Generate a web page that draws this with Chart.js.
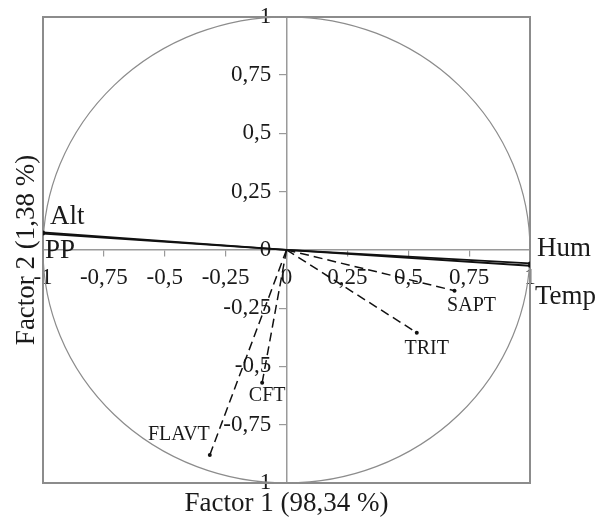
<!DOCTYPE html>
<html>
<head>
<meta charset="utf-8">
<script src="https://cdn.jsdelivr.net/npm/chart.js@4.4.0/dist/chart.umd.min.js"></script>
<style>
  html, body { margin: 0; padding: 0; background: #fff; }
  #wrap { width: 600px; height: 520px; }
</style>
</head>
<body>
<div id="wrap"><canvas id="pcaChart"></canvas></div>
<script>
// ============================================================
// Data (read from the correlation circle)
// ============================================================

const varNames = ['Alt', 'PP', 'Hum', 'Temp', 'SAPT', 'TRIT', 'CFT', 'FLAVT'];
const factor1 = [-1.0, -1.0, 1.0, 1.0, 0.69, 0.535, -0.10, -0.315];
const factor2 = [0.075, 0.07, -0.058, -0.068, -0.175, -0.355, -0.57, -0.88];
// environmental variables are drawn solid, the others dashed
const varGroup = ['env', 'env', 'env', 'env', 'bio', 'bio', 'bio', 'bio'];

const tickValues = [-1, -0.75, -0.5, -0.25, 0, 0.25, 0.5, 0.75, 1];
const tickLabels = ['-1', '-0,75', '-0,5', '-0,25', '0', '0,25', '0,5', '0,75', '1'];

const axisTitleX = 'Factor 1 (98,34 %)';
const axisTitleY = 'Factor 2 (1,38 %)';

// ============================================================
// Styling
// ============================================================

const SERIF = "'Liberation Serif', 'DejaVu Serif', serif";
const BOX_COLOR = '#8c8c8c';
const AXIS_COLOR = '#9a9a9a';

// label placement relative to the arrow end (px)
const labelPlacement = {
  Alt:   { dx: 7,  dy: -16, align: 'left',   size: 27 },
  PP:    { dx: 2,  dy: 17,  align: 'left',   size: 27 },
  Hum:   { dx: 7,  dy: -15, align: 'left',   size: 27 },
  Temp:  { dx: 5,  dy: 31,  align: 'left',   size: 27 },
  SAPT:  { dx: 17, dy: 15,  align: 'center', size: 20 },
  TRIT:  { dx: 10, dy: 16,  align: 'center', size: 20 },
  CFT:   { dx: 5,  dy: 13,  align: 'center', size: 20 },
  FLAVT: { dx: 0,  dy: -20, align: 'right',  size: 20 }
};

function tickText(v) {
  const i = tickValues.findIndex(t => Math.abs(t - v) < 1e-9);
  return i >= 0 ? tickLabels[i] : '';
}

// a centred y axis ignores ticks.padding, so keep the labels off the line with a gap
function yTickText(v) {
  return tickText(v) + '\u2002\u2006';
}

function setTicks(scale) {
  scale.ticks = tickValues.map(v => ({ value: v }));
}

// unit circle drawn behind the vectors
const circlePlugin = {
  id: 'unitCircle',
  beforeDatasetsDraw(chart) {
    const { ctx, scales: { x, y } } = chart;
    const cx = x.getPixelForValue(0);
    const cy = y.getPixelForValue(0);
    const rx = x.getPixelForValue(1) - cx;
    const ry = cy - y.getPixelForValue(1);
    ctx.save();
    ctx.strokeStyle = BOX_COLOR;
    ctx.lineWidth = 1.2;
    ctx.beginPath();
    ctx.ellipse(cx, cy, rx, ry, 0, 0, Math.PI * 2);
    ctx.stroke();
    ctx.restore();
  }
};

// variable names next to the arrow ends
const varLabelPlugin = {
  id: 'varLabels',
  afterDatasetsDraw(chart) {
    const { ctx, scales: { x, y } } = chart;
    ctx.save();
    ctx.fillStyle = '#1a1a1a';
    ctx.textBaseline = 'middle';
    varNames.forEach((name, i) => {
      const p = labelPlacement[name];
      ctx.font = p.size + 'px ' + SERIF;
      ctx.textAlign = p.align;
      ctx.fillText(name, x.getPixelForValue(factor1[i]) + p.dx, y.getPixelForValue(factor2[i]) + p.dy);
    });
    ctx.restore();
  }
};

const datasets = varNames.map((name, i) => {
  const solid = varGroup[i] === 'env';
  return {
    label: name,
    data: [{ x: 0, y: 0 }, { x: factor1[i], y: factor2[i] }],
    showLine: true,
    borderColor: '#111',
    backgroundColor: '#111',
    borderWidth: solid ? 1.8 : 1.5,
    borderDash: solid ? [] : [9, 5],
    pointRadius: [0, 2],
    pointBorderWidth: 0
  };
});

const hiddenEdge = {
  type: 'linear',
  min: -1,
  max: 1,
  ticks: { display: false },
  grid: { display: false, drawTicks: false },
  border: { display: true, color: BOX_COLOR, width: 2 }
};

new Chart(document.getElementById('pcaChart'), {
  type: 'scatter',
  data: { datasets },
  plugins: [circlePlugin, varLabelPlugin],
  options: {
    responsive: true,
    maintainAspectRatio: false,
    animation: false,
    events: [],
    layout: { padding: { left: 2, right: 70, top: 15, bottom: 0 } },
    plugins: {
      legend: { display: false },
      tooltip: { enabled: false }
    },
    scales: {
      x: {
        type: 'linear',
        min: -1,
        max: 1,
        position: { y: 0 },
        afterBuildTicks: setTicks,
        grid: { drawOnChartArea: false, color: AXIS_COLOR, tickLength: 6, lineWidth: 1.2 },
        border: { color: AXIS_COLOR, width: 1.5 },
        ticks: {
          callback: tickText,
          autoSkip: false,
          maxRotation: 0,
          padding: 8,
          color: '#1a1a1a',
          font: { family: SERIF, size: 23 }
        }
      },
      y: {
        type: 'linear',
        min: -1,
        max: 1,
        position: { x: 0 },
        afterBuildTicks: setTicks,
        grid: { drawOnChartArea: false, color: AXIS_COLOR, tickLength: 7, lineWidth: 1.2 },
        border: { color: AXIS_COLOR, width: 1.5 },
        ticks: {
          callback: yTickText,
          autoSkip: false,
          color: '#1a1a1a',
          font: { family: SERIF, size: 23 }
        }
      },
      xBottom: Object.assign({}, hiddenEdge, {
        position: 'bottom',
        title: {
          display: true,
          text: axisTitleX,
          color: '#1a1a1a',
          font: { family: SERIF, size: 27 },
          padding: { top: 4.6, bottom: 0 }
        }
      }),
      yLeft: Object.assign({}, hiddenEdge, {
        position: 'left',
        title: {
          display: true,
          text: axisTitleY,
          color: '#1a1a1a',
          font: { family: SERIF, size: 27 },
          padding: { top: 8.6, bottom: 0 }
        }
      }),
      xTop: Object.assign({}, hiddenEdge, { position: 'top' }),
      yRight: Object.assign({}, hiddenEdge, { position: 'right' })
    }
  }
});
</script>
</body>
</html>
